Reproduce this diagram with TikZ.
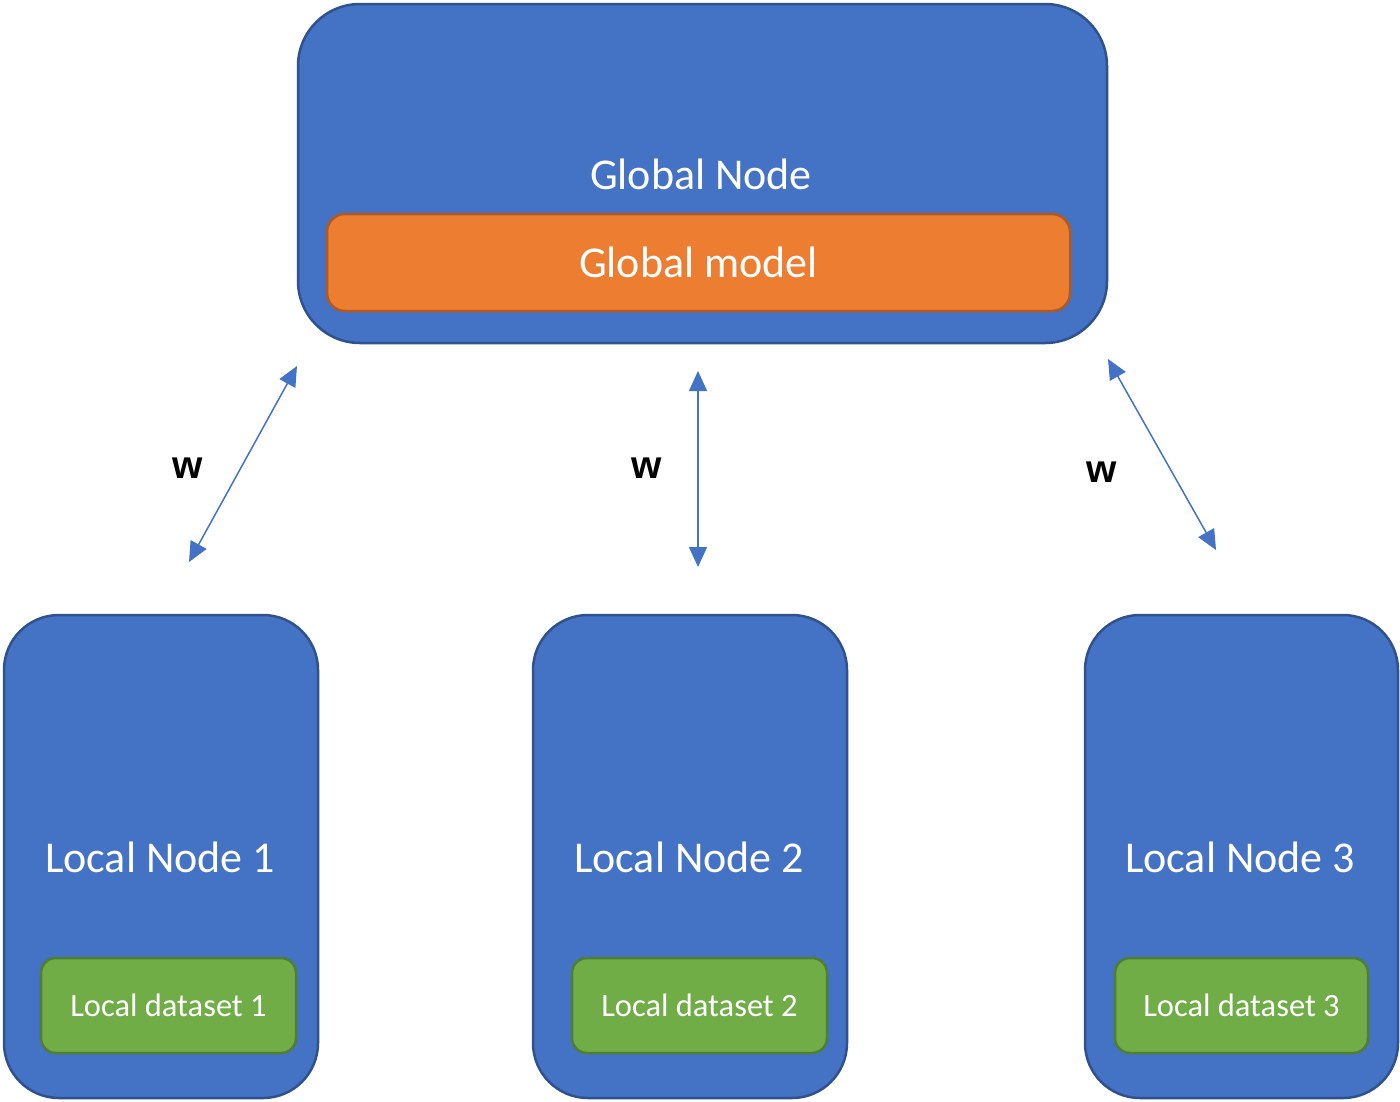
\documentclass[tikz,border=0pt]{standalone}
\usepackage{fontspec}
\setmainfont{Carlito}
\newfontfamily\wfont{Liberation Sans}
\usetikzlibrary{arrows.meta}
\definecolor{boxblue}{HTML}{4472C4}
\definecolor{boxblueedge}{HTML}{2F528F}
\definecolor{boxorange}{HTML}{ED7D31}
\definecolor{boxorangeedge}{HTML}{AE5A21}
\definecolor{boxgreen}{HTML}{70AD47}
\definecolor{boxgreenedge}{HTML}{507E32}
\begin{document}
\begin{tikzpicture}[x=1pt,y=-1pt,
  bigbox/.style={draw=boxblueedge,fill=boxblue,line width=2.5pt,inner sep=0pt,outer sep=0pt},
  modelbox/.style={draw=boxorangeedge,fill=boxorange,line width=2.5pt,rounded corners=18pt,inner sep=0pt,
     minimum width=743pt,minimum height=97pt,text=white,font=\fontsize{44}{53}\selectfont},
  databox/.style={draw=boxgreenedge,fill=boxgreen,line width=2.5pt,rounded corners=15pt,inner sep=0pt,
     minimum width=255pt,minimum height=95pt,text=white,font=\fontsize{32.5}{38}\selectfont},
  title/.style={text=white,font=\fontsize{44}{53}\selectfont,inner sep=0pt},
  wlabel/.style={font=\wfont\bfseries\fontsize{39}{44}\selectfont,inner sep=0pt},
  link/.style={draw=boxblue,line width=1.5pt,{Triangle[length=20pt,width=18pt]}-{Triangle[length=20pt,width=18pt]}}
]
\useasboundingbox (0,0) rectangle (1400,1101);
\fill[white] (0,0) rectangle (1400,1101);

% global node
\node[bigbox,rounded corners=62pt,minimum width=809pt,minimum height=339pt] (global) at (702.5,173.5) {};
\node[title] (globaltxt) at (701,174) {Global Node};
\node[modelbox] (model) at (698.5,262.5) {Global model};

% local nodes
\node[bigbox,rounded corners=55pt,minimum width=314pt,minimum height=483pt] (local1) at (161,856.5) {};
\node[bigbox,rounded corners=55pt,minimum width=314pt,minimum height=483pt] (local2) at (690,856.5) {};
\node[bigbox,rounded corners=55pt,minimum width=313pt,minimum height=483pt] (local3) at (1241.5,856.5) {};
\node[title] (l1txt) at (160,857) {Local Node 1};
\node[title] (l2txt) at (689,857) {Local Node 2};
\node[title] (l3txt) at (1240,857) {Local Node 3};
\node[databox] (data1) at (168.5,1005.5) {Local dataset 1};
\node[databox] (data2) at (699.5,1005.5) {Local dataset 2};
\node[databox,minimum width=253pt] (data3) at (1241.5,1005.5) {Local dataset 3};

% connector ends
\coordinate (a1top) at (297,366);
\coordinate (a1bot) at (189,562);
\coordinate (a2top) at (698,371);
\coordinate (a2bot) at (698,567);
\coordinate (a3top) at (1108,359);
\coordinate (a3bot) at (1216,550);

\draw[link] (a1bot) -- (a1top);
\draw[link] (a2bot) -- (a2top);
\draw[link] (a3top) -- (a3bot);

\node[wlabel] (w1) at (188,468) {w};
\node[wlabel] (w2) at (647,468) {w};
\node[wlabel] (w3) at (1102,472) {w};
\end{tikzpicture}
\end{document}
